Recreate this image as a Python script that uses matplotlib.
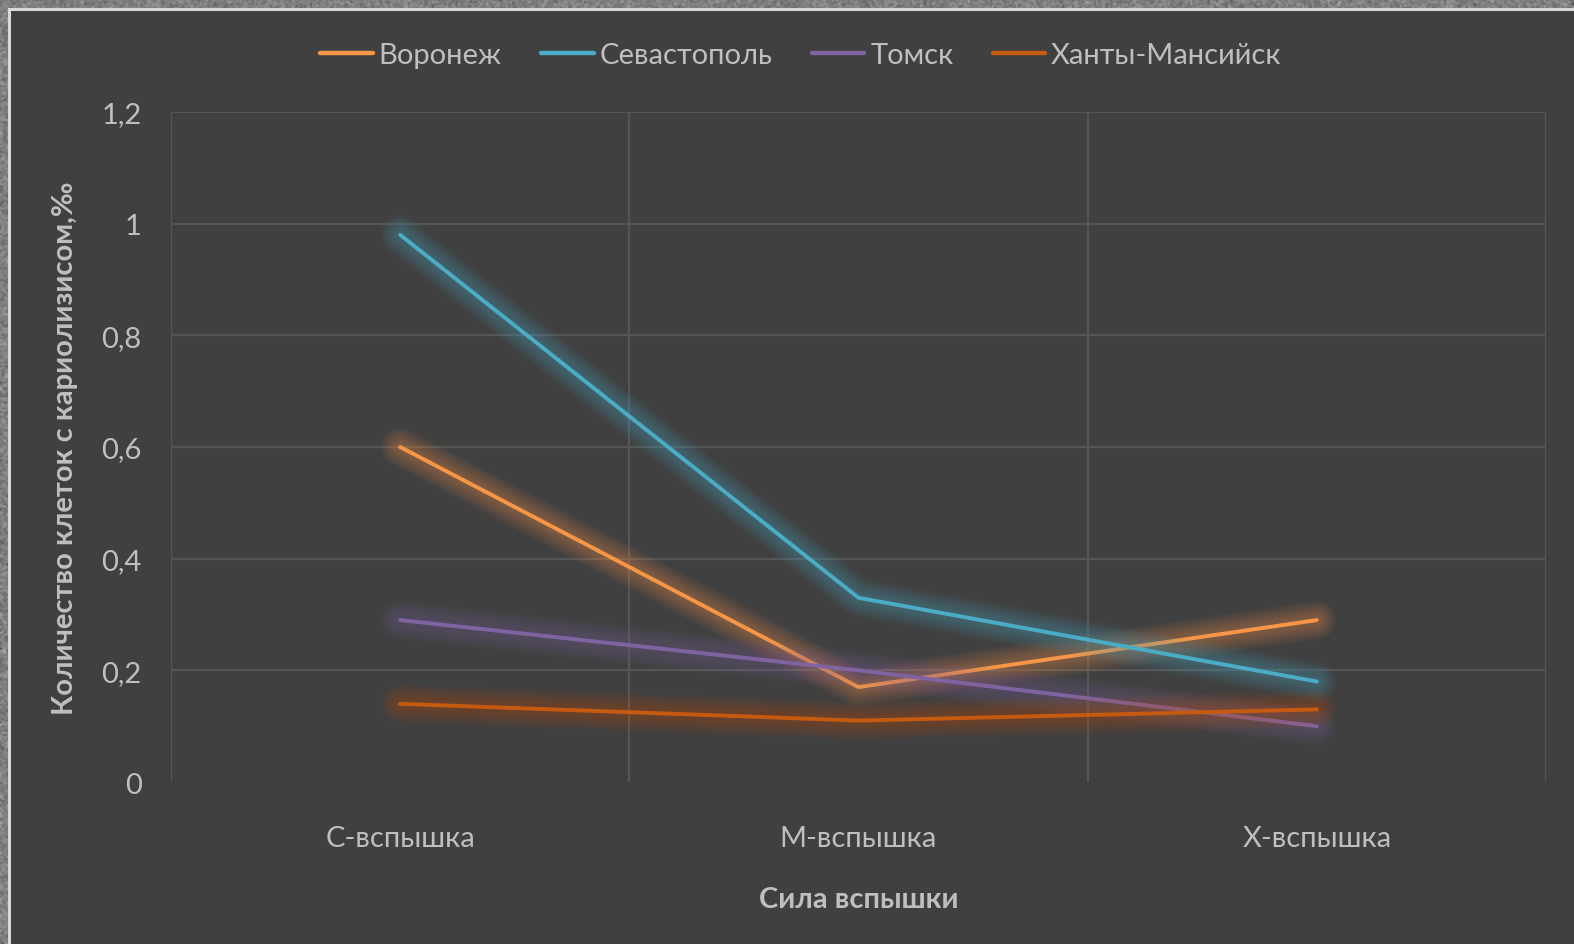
import numpy as np
import matplotlib
matplotlib.use("Agg")
import matplotlib.pyplot as plt
import matplotlib.patheffects as pe
from matplotlib.patches import Rectangle
from matplotlib.ticker import FuncFormatter

# Chart data
categories = ["С-вспышка", "М-вспышка", "Х-вспышка"]
series_names = ["Воронеж", "Севастополь", "Томск", "Ханты-Мансийск"]
voronezh = [0.60, 0.17, 0.29]
sevastopol = [0.98, 0.33, 0.18]
tomsk = [0.29, 0.20, 0.10]
khanty = [0.14, 0.11, 0.13]
series_values = [voronezh, sevastopol, tomsk, khanty]
series_colors = ["#F79646", "#4BACC6", "#8064A2", "#C55A11"]
y_ticks = [0, 0.2, 0.4, 0.6, 0.8, 1.0, 1.2]

W, H, DPI = 1574, 945, 100
TEXT = "#BFBFBF"
PANEL = "#404040"
GRID = "#555555"
FS = 21

plt.rcParams["font.family"] = ["Lato", "DejaVu Sans"]

fig = plt.figure(figsize=(W / DPI, H / DPI), dpi=DPI)

# Stone-like textured backdrop behind the chart panel
bg = fig.add_axes([0, 0, 1, 1])
bg.set_axis_off()
rng = np.random.default_rng(7)
tex = 0.50 + 0.06 * rng.standard_normal((H // 2, W // 2))
bg.imshow(tex, cmap="gray", vmin=0, vmax=1, aspect="auto",
          extent=[0, 1, 0, 1], interpolation="bilinear")
bg.set_xlim(0, 1)
bg.set_ylim(0, 1)
x0, ytop = 9 / W, 1 - 10 / H
bg.add_patch(Rectangle((x0, -0.05), 1.1 - x0, ytop + 0.05,
                       transform=bg.transAxes, facecolor=PANEL,
                       edgecolor="#D9D9D9", linewidth=2.2, zorder=2,
                       clip_on=False))

ax = fig.add_axes([171 / W, 1 - 783 / H, (1546 - 171) / W, (783 - 113) / H])
ax.set_facecolor("none")
ax.set_xlim(-0.5, len(categories) - 0.5)
ax.set_ylim(0, 1.2)

# soft glow: many thin translucent strokes stacked from wide to narrow
glow_widths = np.arange(28, 5, -2)

x = np.arange(len(categories))
for name, vals, col in zip(series_names, series_values, series_colors):
    glow = [pe.Stroke(linewidth=w, foreground=col, alpha=0.035)
            for w in glow_widths]
    ax.plot(x, vals, color=col, linewidth=2.8, solid_capstyle="round",
            label=name, path_effects=glow + [pe.Normal()], zorder=3)

# Category boundary gridlines and value gridlines
ax.set_xticks(x)
ax.set_xticklabels(categories)
ax.set_xticks(np.arange(-0.5, len(categories)), minor=True)
ax.set_yticks(y_ticks)
ax.yaxis.set_major_formatter(FuncFormatter(
    lambda v, _: ("%g" % round(v, 1)).replace(".", ",")))
ax.grid(True, axis="y", which="major", color=GRID, linewidth=1.6)
ax.grid(True, axis="x", which="minor", color=GRID, linewidth=1.6)
ax.grid(False, axis="x", which="major")
ax.set_axisbelow(True)
for s in ax.spines.values():
    s.set_visible(False)
ax.tick_params(axis="both", which="both", length=0, colors=TEXT,
               labelsize=FS)
ax.tick_params(axis="y", pad=21)
ax.tick_params(axis="x", pad=31)

# no gridline along the zero level
ax.yaxis.get_major_ticks()[0].gridline.set_visible(False)

ax.set_xlabel("Сила вспышки", color=TEXT, fontsize=FS, fontweight="bold",
              labelpad=25.5)
ax.set_ylabel("Количество клеток с кариолизисом,‰", color=TEXT,
              fontsize=FS, fontweight="bold", labelpad=17)

leg = fig.legend(loc="center", bbox_to_anchor=(801 / W, 1 - 56 / H),
                 ncol=4, frameon=False, fontsize=FS, handlelength=1.8,
                 handletextpad=0.2, columnspacing=1.35)
for t in leg.get_texts():
    t.set_color(TEXT)
for h in leg.get_lines():
    h.set_linewidth(3.2)
    h.set_path_effects([])

fig.savefig("out.png", dpi=DPI)
